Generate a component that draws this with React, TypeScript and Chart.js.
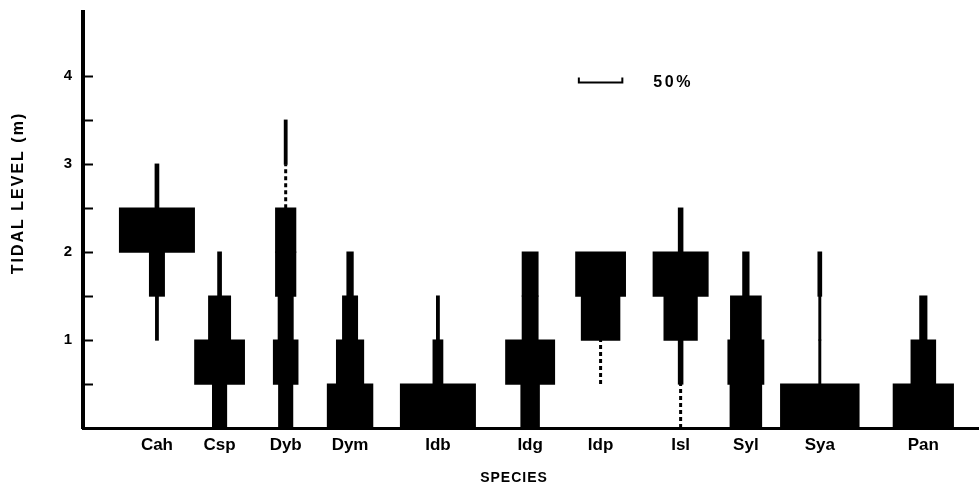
import React, { useEffect, useRef } from 'react';
import { Chart, registerables } from 'chart.js';

Chart.register(...registerables);

// ---- data ----
const species = ['Cah', 'Csp', 'Dyb', 'Dym', 'Idb', 'Idg', 'Idp', 'Isl', 'Syl', 'Sya', 'Pan'];
// position of each kite's axis along the horizontal percentage scale
const speciesAxisPos = [85, 157, 233, 307, 408, 514, 595, 687, 762, 847, 966];
// lower edge of each 0.5 m tidal band
const bandLower = [0, 0.5, 1.0, 1.5, 2.0, 2.5, 3.0];
const bandHeight = 0.5;

// percentage of each species in each band (0-0.5, 0.5-1, ..., 3-3.5 m)
const cah = [0, 0, 3, 17, 86, 4, 0];
const csp = [16, 57, 25, 4, 0, 0, 0];
const dyb = [16, 28, 17, 23, 23, 0, 3];
const dym = [52, 31, 17, 7, 0, 0, 0];
const idb = [86, 11, 3, 0, 0, 0, 0];
const idg = [21, 56, 18, 18, 0, 0, 0];
const idp = [0, 0, 44, 57, 0, 0, 0];
const isl = [0, 5, 38, 63, 5, 0, 0];
const syl = [36, 41, 35, 7, 0, 0, 0];
const sya = [90, 2, 2, 4, 0, 0, 0];
const pan = [69, 28, 8, 0, 0, 0, 0];
const coverBySpecies = [cah, csp, dyb, dym, idb, idg, idp, isl, syl, sya, pan];

// bands with only trace occurrence (dotted)
const traceSpecies = ['Dyb', 'Idp', 'Isl'];
const traceBandLower = [2.5, 0.5, 0];

const yLabelValues = [1, 2, 3, 4];
const yTickValues = [0.5, 1, 1.5, 2, 2.5, 3, 3.5, 4];
const scaleBarPercent = 50;
const scaleBarStart = 570;
const scaleBarLevel = 3.93;

const FONT = '"Liberation Sans", Arial, Helvetica, sans-serif';

export default function App() {
  const ref = useRef<HTMLCanvasElement | null>(null);

  useEffect(() => {
    const canvas = ref.current;
    if (!canvas) return;

    const barData: any[] = [];
    species.forEach((_, i) => {
      coverBySpecies[i].forEach((w, b) => {
        if (w > 0) {
          barData.push({
            y: bandLower[b] + bandHeight / 2,
            x: [speciesAxisPos[i] - w / 2, speciesAxisPos[i] + w / 2],
          });
        }
      });
    });

    const traceSets = traceSpecies.map((s, k) => {
      const c = speciesAxisPos[species.indexOf(s)];
      return {
        type: 'line' as const,
        data: [
          { x: c, y: traceBandLower[k] },
          { x: c, y: traceBandLower[k] + bandHeight },
        ],
        borderColor: '#000',
        borderWidth: 3,
        borderDash: [4, 3],
        pointRadius: 0,
        fill: false,
      };
    });

    const decor = {
      id: 'decor',
      afterDraw(chart: any) {
        const { ctx, scales } = chart;
        const xs = scales.x;
        const ys = scales.y;
        ctx.save();
        // inward tick marks
        ctx.strokeStyle = '#000';
        ctx.lineWidth = 2;
        yTickValues.forEach((v) => {
          const py = Math.round(ys.getPixelForValue(v)) + 0.5;
          ctx.beginPath();
          ctx.moveTo(xs.left, py);
          ctx.lineTo(xs.left + 10, py);
          ctx.stroke();
        });
        // axis titles
        ctx.fillStyle = '#000';
        ctx.font = `bold 16px ${FONT}`;
        ctx.textAlign = 'center';
        ctx.textBaseline = 'middle';
        ctx.save();
        ctx.translate(19, 193);
        ctx.rotate(-Math.PI / 2);
        (ctx as any).letterSpacing = '2px';
        ctx.fillText('TIDAL LEVEL (m)', 0, 0);
        ctx.restore();
        ctx.font = `bold 14px ${FONT}`;
        (ctx as any).letterSpacing = '1px';
        ctx.fillText('SPECIES', 514, 478);
        // 50% scale bar
        const x0 = xs.getPixelForValue(scaleBarStart);
        const x1 = xs.getPixelForValue(scaleBarStart + scaleBarPercent);
        const py = Math.round(ys.getPixelForValue(scaleBarLevel)) + 0.5;
        ctx.lineWidth = 2;
        ctx.beginPath();
        ctx.moveTo(x0, py - 5);
        ctx.lineTo(x0, py);
        ctx.lineTo(x1, py);
        ctx.lineTo(x1, py - 5);
        ctx.stroke();
        ctx.textAlign = 'left';
        ctx.font = `bold 16px ${FONT}`;
        (ctx as any).letterSpacing = '2.5px';
        ctx.fillText(`${scaleBarPercent}%`, x1 + 31, py);
        ctx.restore();
      },
    };

    const chart = new Chart(canvas, {
      type: 'bar',
      data: {
        datasets: [
          {
            type: 'bar',
            data: barData,
            backgroundColor: '#000',
            borderWidth: 0,
            inflateAmount: 0.6,
            barPercentage: 1,
            categoryPercentage: 1,
            grouped: false,
          } as any,
          ...(traceSets as any[]),
        ],
      },
      options: {
        indexAxis: 'y',
        animation: false,
        responsive: false,
        layout: { padding: { top: 12, right: 0, left: 0, bottom: 0 } },
        plugins: { legend: { display: false }, tooltip: { enabled: false } },
        scales: {
          x: {
            type: 'linear',
            min: 0,
            max: 1030,
            offset: false,
            grid: { display: false, drawTicks: false },
            border: { display: true, color: '#000', width: 3 },
            afterBuildTicks: (s: any) => {
              s.ticks = speciesAxisPos.map((v) => ({ value: v }));
            },
            afterFit: (s: any) => {
              s.height = 64;
              s.paddingLeft = 0;
              s.paddingRight = 0;
            },
            ticks: {
              autoSkip: false,
              maxRotation: 0,
              padding: 7,
              color: '#000',
              font: { family: FONT, size: 17, weight: 'bold' },
              callback: (_v: any, i: number) => species[i],
            },
          },
          y: {
            type: 'linear',
            min: 0,
            max: 4.73,
            offset: false,
            grid: { display: false, drawTicks: false, offset: false },
            border: { display: true, color: '#000', width: 4 },
            afterFit: (s: any) => {
              s.width = 83;
              s.paddingTop = 0;
              s.paddingBottom = 0;
            },
            ticks: {
              stepSize: 0.5,
              includeBounds: false,
              padding: 11,
              color: '#000',
              font: { family: FONT, size: 15, weight: 'bold' },
              callback: (v: any) => (yLabelValues.includes(Number(v)) ? String(v) : ''),
            },
          },
        },
      } as any,
      plugins: [decor],
    });

    return () => chart.destroy();
  }, []);

  return (
    <div style={{ position: 'fixed', left: 0, top: 0, width: 979, height: 492, background: '#fff' }}>
      <canvas ref={ref} width={979} height={492} style={{ display: 'block' }} />
    </div>
  );
}
